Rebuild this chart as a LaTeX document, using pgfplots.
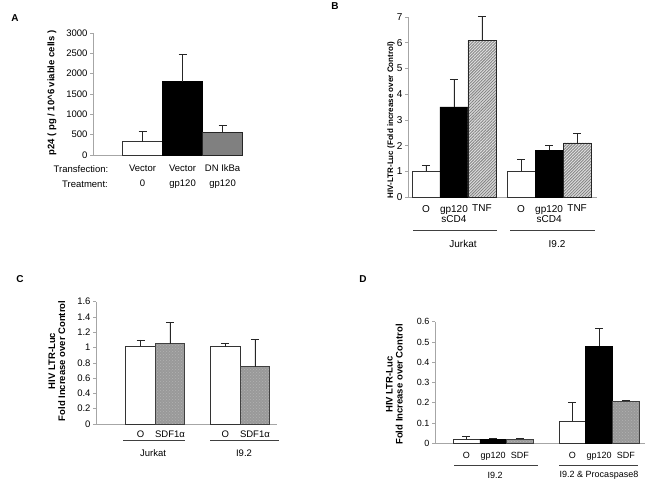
\documentclass[border=0pt]{standalone}
\usepackage{fontspec}
\setmainfont{Liberation Sans}
\usepackage{pgfplots}
\pgfplotsset{compat=1.18}
\usetikzlibrary{patterns,patterns.meta}

\pgfplotsset{
  panel/.style={
    scale only axis, anchor=south west,
    axis x line=bottom, axis y line=left,
    axis line style={-, draw=gray!70, line width=0.6pt},
    ymin=0, clip=false,
    ytick align=outside, major tick length=3pt,
    ytick style={draw=gray!70, line width=0.6pt},
    xtick style={draw=none},
    tick label style={font=\fontsize{9.5}{10.5}\selectfont},
    yticklabel style={xshift=1pt},
    xticklabel style={align=center},
    /pgf/number format/assume math mode=true,
    /pgf/number format/set thousands separator={},
    error bars/y dir=plus, error bars/y explicit,
    error bars/error bar style={black!85, line width=0.7pt},
    error bars/error mark options={rotate=90, black!85, mark size=4pt, line width=0.7pt},
  },
  wbar/.style={ybar, bar width=1, bar shift=0pt, fill=white, draw=black!80, line width=0.6pt},
  kbar/.style={ybar, bar width=1, bar shift=0pt, fill=black, draw=black, line width=0.6pt},
  gbar/.style={ybar, bar width=1, bar shift=0pt, fill=gray, draw=black!85, line width=0.6pt},
  hbar/.style={ybar, bar width=1, bar shift=0pt, fill=gray!25, draw=black!85, line width=0.6pt,
    postaction={pattern={Lines[angle=45, distance=2.1pt, line width=0.9pt]}, pattern color=gray!95}},
  dbar/.style={ybar, bar width=1, bar shift=0pt, fill=gray!80, draw=black!75, line width=0.6pt,
    postaction={pattern=crosshatch dots, pattern color=gray!60}},
}

\begin{document}
\begin{tikzpicture}
\useasboundingbox (0,0) rectangle (661pt,482pt);

% ---- A ----
\begin{axis}[panel, at={(93pt,327pt)}, width=150.4pt, height=122pt,
  xmin=-1.24, xmax=2.52, ymax=3000, ytick={0,500,...,3000},
  xtick={0,1,2}, xticklabels={{Vector\\0},{Vector\\gp120},{DN IkBa\\gp120}},
  xticklabel style={font=\fontsize{9.5}{15}\selectfont, yshift=-5pt}]
\addplot[wbar] coordinates {(0,330) +- (0,260)};
\addplot[kbar] coordinates {(1,1800) +- (0,680)};
\addplot[gbar] coordinates {(2,560) +- (0,160)};
\end{axis}

% ---- B ----
\begin{axis}[panel, at={(408pt,285pt)}, width=189pt, height=180pt,
  xmin=-0.64, xmax=6.11, ymax=7, ytick={0,1,...,7},
  xtick={0,1,2,3.4,4.4,5.4},
  xticklabels={O,{gp120\\sCD4},TNF,O,{gp120\\sCD4},TNF},
  tick label style={font=\fontsize{10}{10.5}\selectfont},
  xticklabel style={yshift=-3pt}]
\addplot[wbar] coordinates {(0,1.0) +- (0,0.22) (3.4,1.0) +- (0,0.45)};
\addplot[kbar] coordinates {(1,3.5) +- (0,1.07) (4.4,1.82) +- (0,0.18)};
\addplot[hbar] coordinates {(2,6.08) +- (0,0.95) (5.4,2.1) +- (0,0.38)};
\end{axis}

% ---- C ----
\begin{axis}[panel, at={(96pt,58pt)}, width=181pt, height=122.3pt,
  xmin=-1.51, xmax=4.63, ymax=1.6, ytick={0,0.2,...,1.6},
  xtick={0,1,2.88,3.88}, xticklabels={O,SDF1α,O,SDF1α},
  xticklabel style={yshift=-2pt}]
\addplot[wbar] coordinates {(0,1.02) +- (0,0.08) (2.88,1.01) +- (0,0.04)};
\addplot[dbar] coordinates {(1,1.05) +- (0,0.28) (3.88,0.75) +- (0,0.36)};
\end{axis}

% ---- D ----
\begin{axis}[panel, at={(435pt,38.7pt)}, width=210pt, height=121.6pt,
  xmin=-1.18, xmax=6.69, ymax=0.6, ytick={0,0.1,...,0.6},
  xtick={0,1,2,3.97,4.97,5.97}, xticklabels={O,gp120,SDF,O,gp120,SDF},
  tick label style={font=\fontsize{9}{10}\selectfont},
  xticklabel style={yshift=-4pt}]
\addplot[wbar] coordinates {(0,0.02) +- (0,0.013) (3.97,0.11) +- (0,0.09)};
\addplot[kbar] coordinates {(1,0.02) +- (0,0.005) (4.97,0.48) +- (0,0.085)};
\addplot[dbar] coordinates {(2,0.02) +- (0,0.005) (5.97,0.207) +- (0,0.005)};
\end{axis}

% panel letters
\begin{scope}[font=\fontsize{10}{12}\selectfont\bfseries]
\node at (15pt,464pt) {A};
\node at (335pt,476pt) {B};
\node at (20pt,203pt) {C};
\node at (363pt,203pt) {D};
\end{scope}

% y labels
\node[rotate=90, font=\fontsize{9.5}{11}\selectfont\bfseries] at (52pt,389pt)
  {p24 ( pg / 10\textasciicircum 6 viable cells )};
\node[rotate=90, font=\fontsize{8}{10}\selectfont\bfseries] at (391pt,362pt)
  {HIV-LTR-Luc (Fold increase over Control)};
\node[rotate=90, align=center, font=\fontsize{9.5}{10}\selectfont\bfseries] at (57pt,121pt)
  {HIV LTR-Luc\\Fold Increase over Control};
\node[rotate=90, align=center, font=\fontsize{9.5}{10}\selectfont\bfseries] at (394.5pt,97.5pt)
  {HIV LTR-Luc\\Fold Increase over Control};

% row titles of A
\begin{scope}[font=\fontsize{9.5}{11}\selectfont]
\node at (81pt,313pt) {Transfection:};
\node at (85pt,298pt) {Treatment:};
\end{scope}

% group lines and names
\begin{scope}[draw=black!75, line width=0.8pt]
\draw (413pt,252pt) -- (497pt,252pt);
\draw (510pt,252pt) -- (595pt,252pt);
\draw (123pt,42pt) -- (185pt,42pt);
\draw (210pt,42pt) -- (279pt,42pt);
\draw (454pt,17pt) -- (538pt,17pt);
\draw (559pt,17pt) -- (638pt,17pt);
\end{scope}
\begin{scope}[font=\fontsize{10}{12}\selectfont]
\node at (463pt,238pt) {Jurkat};
\node at (557pt,238pt) {I9.2};
\end{scope}
\begin{scope}[font=\fontsize{9.5}{11}\selectfont]
\node at (153pt,29pt) {Jurkat};
\node at (244pt,29pt) {I9.2};
\end{scope}
\begin{scope}[font=\fontsize{9}{11}\selectfont]
\node at (495pt,7pt) {I9.2};
\node at (599pt,7pt) {I9.2 \& Procaspase8};
\end{scope}
\end{tikzpicture}
\end{document}
